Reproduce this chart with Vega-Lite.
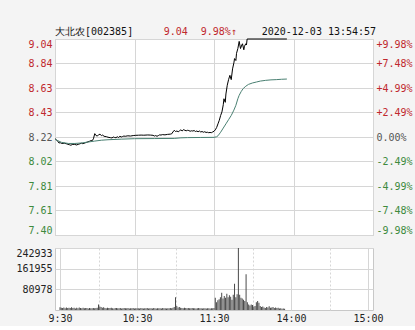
{
  "$schema": "https://vega.github.io/schema/vega-lite/v6.json",
  "background": "#f4f4f4",
  "padding": {"left": 15, "top": 26, "right": 2, "bottom": 2},
  "config": {
    "view": {"fill": "#ffffff", "stroke": "#c8c8c8"},
    "font": "DejaVu Sans Mono",
    "axis": {"labelFont": "DejaVu Sans Mono", "labelFontSize": 10, "domain": false, "ticks": false, "tickSize": 0, "labelPadding": 3, "gridColor": "#d6d6d6"}
  },
  "datasets": {
    "price": [
      {"t":0,"p":8.205},{"t":1,"p":8.198},{"t":2,"p":8.185},{"t":3,"p":8.17},{"t":4,"p":8.172},{"t":5,"p":8.166},{"t":7,"p":8.168},{"t":9,"p":8.162},{"t":11,"p":8.155},{"t":12,"p":8.151},{"t":13,"p":8.157},{"t":15,"p":8.159},{"t":16,"p":8.153},{"t":18,"p":8.16},{"t":20,"p":8.168},{"t":21,"p":8.164},{"t":23,"p":8.172},{"t":24,"p":8.176},{"t":26,"p":8.184},{"t":27,"p":8.19},{"t":28,"p":8.188},{"t":29,"p":8.205},{"t":30,"p":8.248},{"t":31,"p":8.232},{"t":32,"p":8.228},{"t":33,"p":8.24},{"t":34,"p":8.243},{"t":35,"p":8.232},{"t":36,"p":8.236},{"t":37,"p":8.226},{"t":39,"p":8.222},{"t":40,"p":8.218},{"t":42,"p":8.214},{"t":43,"p":8.212},{"t":44,"p":8.22},{"t":45,"p":8.216},{"t":46,"p":8.214},{"t":47,"p":8.222},{"t":48,"p":8.216},{"t":49,"p":8.226},{"t":50,"p":8.22},{"t":51,"p":8.224},{"t":52,"p":8.228},{"t":53,"p":8.226},{"t":55,"p":8.23},{"t":57,"p":8.228},{"t":59,"p":8.232},{"t":61,"p":8.234},{"t":63,"p":8.235},{"t":65,"p":8.236},{"t":67,"p":8.235},{"t":70,"p":8.237},{"t":72,"p":8.236},{"t":74,"p":8.234},{"t":75,"p":8.228},{"t":76,"p":8.232},{"t":77,"p":8.226},{"t":78,"p":8.232},{"t":79,"p":8.238},{"t":80,"p":8.236},{"t":81,"p":8.24},{"t":83,"p":8.238},{"t":85,"p":8.242},{"t":87,"p":8.244},{"t":88,"p":8.246},{"t":89,"p":8.262},{"t":90,"p":8.276},{"t":91,"p":8.266},{"t":92,"p":8.27},{"t":93,"p":8.264},{"t":94,"p":8.272},{"t":95,"p":8.28},{"t":96,"p":8.27},{"t":97,"p":8.282},{"t":98,"p":8.276},{"t":99,"p":8.272},{"t":100,"p":8.276},{"t":101,"p":8.274},{"t":102,"p":8.268},{"t":103,"p":8.272},{"t":104,"p":8.27},{"t":105,"p":8.274},{"t":106,"p":8.266},{"t":107,"p":8.27},{"t":108,"p":8.264},{"t":109,"p":8.27},{"t":110,"p":8.262},{"t":111,"p":8.266},{"t":112,"p":8.26},{"t":113,"p":8.264},{"t":114,"p":8.258},{"t":115,"p":8.26},{"t":116,"p":8.256},{"t":117,"p":8.258},{"t":118,"p":8.256},{"t":119,"p":8.262},{"t":120,"p":8.268},{"t":121,"p":8.28},{"t":122,"p":8.3},{"t":123,"p":8.33},{"t":124,"p":8.36},{"t":125,"p":8.4},{"t":126,"p":8.43},{"t":127,"p":8.49},{"t":127.5,"p":8.54},{"t":128.5,"p":8.51},{"t":129,"p":8.58},{"t":130,"p":8.653},{"t":131,"p":8.7},{"t":132,"p":8.736},{"t":133,"p":8.7},{"t":134,"p":8.79},{"t":135,"p":8.84},{"t":135.5,"p":8.876},{"t":136.5,"p":8.86},{"t":137,"p":8.92},{"t":138,"p":8.96},{"t":139,"p":9.02},{"t":140,"p":8.96},{"t":141,"p":8.99},{"t":141.5,"p":9.0},{"t":142.5,"p":8.95},{"t":143,"p":8.98},{"t":144,"p":9.0},{"t":144.5,"p":8.99},{"t":145,"p":9.04},{"t":175,"p":9.04}
    ],
    "avg": [
      {"t":0,"p":8.2},{"t":2,"p":8.19},{"t":5,"p":8.175},{"t":10,"p":8.166},{"t":15,"p":8.166},{"t":20,"p":8.17},{"t":25,"p":8.178},{"t":30,"p":8.186},{"t":35,"p":8.193},{"t":40,"p":8.197},{"t":50,"p":8.202},{"t":60,"p":8.206},{"t":75,"p":8.207},{"t":90,"p":8.208},{"t":95,"p":8.213},{"t":100,"p":8.215},{"t":110,"p":8.216},{"t":120,"p":8.217},{"t":122,"p":8.222},{"t":123,"p":8.23},{"t":124,"p":8.245},{"t":125,"p":8.26},{"t":127,"p":8.295},{"t":129,"p":8.33},{"t":131,"p":8.365},{"t":133,"p":8.4},{"t":135,"p":8.445},{"t":136.5,"p":8.485},{"t":138,"p":8.54},{"t":139,"p":8.569},{"t":140.5,"p":8.6},{"t":142,"p":8.625},{"t":144,"p":8.645},{"t":146,"p":8.66},{"t":149,"p":8.672},{"t":152,"p":8.68},{"t":155,"p":8.688},{"t":159,"p":8.694},{"t":163,"p":8.698},{"t":167,"p":8.7},{"t":171,"p":8.703},{"t":175,"p":8.705}
    ],
    "hdr": [
      {"t":0,"y":9.1,"label":"大北农[002385]","kind":"name"},
      {"t":82,"y":9.1,"label":"9.04","kind":"price"},
      {"t":110,"y":9.1,"label":"9.98%↑","kind":"pct"},
      {"t":156,"y":9.1,"label":"2020-12-03 13:54:57","kind":"time"}
    ],
    "vol": [
      {"t":0,"v":11000},{"t":1,"v":9000},{"t":2,"v":8000},{"t":3,"v":9500},{"t":4,"v":7000},{"t":5,"v":10000},{"t":6,"v":8000},{"t":7,"v":9000},{"t":8,"v":7500},{"t":9,"v":10500},{"t":10,"v":8000},{"t":11,"v":9000},{"t":12,"v":6000},{"t":13,"v":8500},{"t":14,"v":7000},{"t":15,"v":9500},{"t":16,"v":8000},{"t":17,"v":7000},{"t":18,"v":9000},{"t":19,"v":6500},{"t":20,"v":8000},{"t":21,"v":7500},{"t":22,"v":6000},{"t":23,"v":8000},{"t":24,"v":7000},{"t":25,"v":6500},{"t":26,"v":8000},{"t":27,"v":7000},{"t":28,"v":7500},{"t":29,"v":9000},
      {"t":30,"v":22000},
      {"t":31,"v":14000},{"t":32,"v":12000},{"t":33,"v":9000},{"t":34,"v":11000},{"t":35,"v":8000},{"t":36,"v":7000},{"t":37,"v":9000},{"t":38,"v":8000},{"t":39,"v":7500},{"t":40,"v":8500},{"t":41,"v":7000},{"t":42,"v":6000},{"t":43,"v":7500},{"t":44,"v":8000},{"t":45,"v":6500},{"t":46,"v":7000},{"t":47,"v":8000},{"t":48,"v":6000},{"t":49,"v":7000},{"t":50,"v":7500},{"t":51,"v":6500},{"t":52,"v":7000},{"t":53,"v":8000},{"t":54,"v":6000},{"t":55,"v":6500},{"t":56,"v":7000},{"t":57,"v":7500},{"t":58,"v":6000},{"t":59,"v":7000},
      {"t":60,"v":7000},{"t":61,"v":6500},{"t":62,"v":6000},{"t":63,"v":7500},{"t":64,"v":7000},{"t":65,"v":6000},{"t":66,"v":6500},{"t":67,"v":7000},{"t":68,"v":8000},{"t":69,"v":6000},{"t":70,"v":6500},{"t":71,"v":7000},{"t":72,"v":6000},{"t":73,"v":7500},{"t":74,"v":6500},{"t":75,"v":6000},{"t":76,"v":7000},{"t":77,"v":6500},{"t":78,"v":7000},{"t":79,"v":6000},{"t":80,"v":7500},{"t":81,"v":6500},{"t":82,"v":7000},{"t":83,"v":6000},{"t":84,"v":6500},{"t":85,"v":7000},{"t":86,"v":8000},{"t":87,"v":7000},{"t":88,"v":9000},
      {"t":89,"v":12000},{"t":90,"v":50000},{"t":91,"v":16000},{"t":92,"v":10000},{"t":93,"v":12000},{"t":94,"v":9000},
      {"t":95,"v":8000},{"t":96,"v":7000},{"t":97,"v":9000},{"t":98,"v":7500},{"t":99,"v":7000},{"t":100,"v":8000},{"t":101,"v":6500},{"t":102,"v":7000},{"t":103,"v":7500},{"t":104,"v":6500},{"t":105,"v":7000},{"t":106,"v":6000},{"t":107,"v":7000},{"t":108,"v":7500},{"t":109,"v":6500},{"t":110,"v":7000},{"t":111,"v":6000},{"t":112,"v":6500},{"t":113,"v":7000},{"t":114,"v":6000},{"t":115,"v":6500},{"t":116,"v":7000},{"t":117,"v":6000},{"t":118,"v":6500},{"t":119,"v":7000},
      {"t":120,"v":8000},{"t":121,"v":48000},{"t":122,"v":30000},{"t":123,"v":38000},{"t":124,"v":42000},{"t":125,"v":50000},{"t":126,"v":68000},{"t":127,"v":45000},{"t":128,"v":55000},{"t":129,"v":48000},{"t":130,"v":64000},{"t":131,"v":50000},{"t":132,"v":58000},{"t":133,"v":52000},{"t":134,"v":40000},{"t":135,"v":60000},{"t":136,"v":103000},{"t":137,"v":50000},{"t":138,"v":62000},{"t":139,"v":242933},{"t":140,"v":60000},{"t":141,"v":48000},{"t":142,"v":45000},{"t":143,"v":40000},{"t":144,"v":35000},{"t":145,"v":140000},{"t":146,"v":30000},{"t":147,"v":22000},{"t":148,"v":18000},{"t":149,"v":22000},{"t":150,"v":20000},{"t":151,"v":14000},{"t":152,"v":16000},{"t":153,"v":30000},{"t":154,"v":35000},{"t":155,"v":28000},{"t":156,"v":16000},{"t":157,"v":12000},{"t":158,"v":14000},{"t":159,"v":10000},{"t":160,"v":8000},{"t":161,"v":12000},{"t":162,"v":10000},{"t":163,"v":15000},{"t":164,"v":9000},{"t":165,"v":10000},{"t":166,"v":12000},{"t":167,"v":8000},{"t":168,"v":10000},{"t":169,"v":8000},{"t":170,"v":9000},{"t":171,"v":6000},{"t":172,"v":7000},{"t":173,"v":5000},{"t":174,"v":6000},{"t":175,"v":5000}
    ]
  },
  "vconcat": [
    {
      "width": 318,
      "height": 196,
      "layer": [
        {
          "data": {"name": "price"},
          "mark": {"type": "line", "color": "#000000", "strokeWidth": 1},
          "encoding": {
            "x": {"field": "t", "type": "quantitative", "scale": {"domain": [0, 240], "nice": false, "zero": false},
              "axis": {"title": null, "values": [0,30,60,90,120,150,180,210,240], "labels": false, "grid": true,
                "gridDash": {"condition": {"test": "datum.value % 60 != 0", "value": [2, 2]}, "value": []}}},
            "y": {"field": "p", "type": "quantitative", "scale": {"domain": [7.40, 9.04], "nice": false, "zero": false},
              "axis": {"title": null, "orient": "left", "values": [7.40,7.605,7.81,8.015,8.22,8.425,8.63,8.835,9.04], "grid": true, "labelFlush": true,
                "labelExpr": "['7.40','7.61','7.81','8.02','8.22','8.43','8.63','8.84','9.04'][round((datum.value-7.40)/0.205)]",
                "labelColor": {"condition": [{"test": "datum.value > 8.3", "value": "#c0282d"}, {"test": "datum.value < 8.1", "value": "#3d8a3d"}], "value": "#555555"}}}
          }
        },
        {
          "data": {"name": "avg"},
          "mark": {"type": "line", "color": "#4a8072", "strokeWidth": 1},
          "encoding": {
            "x": {"field": "t", "type": "quantitative", "scale": {"domain": [0, 240], "nice": false, "zero": false}},
            "y": {"field": "p", "type": "quantitative", "scale": {"domain": [7.40, 9.04], "nice": false, "zero": false},
              "axis": {"title": null, "orient": "right", "values": [7.40,7.605,7.81,8.015,8.22,8.425,8.63,8.835,9.04], "grid": false, "labelFlush": true,
                "labelExpr": "['-9.98%','-7.48%','-4.99%','-2.49%','0.00%','+2.49%','+4.99%','+7.48%','+9.98%'][round((datum.value-7.40)/0.205)]",
                "labelColor": {"condition": [{"test": "datum.value > 8.3", "value": "#c0282d"}, {"test": "datum.value < 8.1", "value": "#3d8a3d"}], "value": "#555555"}}}
          }
        },
        {
          "data": {"name": "hdr"},
          "mark": {"type": "text", "align": "left", "baseline": "middle", "fontSize": 10, "font": "DejaVu Sans Mono"},
          "encoding": {
            "x": {"field": "t", "type": "quantitative", "scale": {"domain": [0, 240], "nice": false, "zero": false}},
            "y": {"field": "y", "type": "quantitative", "scale": {"domain": [7.40, 9.04], "nice": false, "zero": false}, "axis": null},
            "text": {"field": "label"},
            "color": {"field": "kind", "type": "nominal", "scale": {"domain": ["name","price","pct","time"], "range": ["#111111","#c0282d","#c0282d","#111111"]}, "legend": null}
          }
        }
      ],
      "resolve": {"scale": {"y": "independent"}}
    },
    {
      "width": 318,
      "height": 62,
      "data": {"name": "vol"},
      "mark": {"type": "bar", "color": "#4a4a4a", "size": 1},
      "encoding": {
        "x": {"field": "t", "type": "quantitative", "scale": {"domain": [0, 240], "nice": false, "zero": false},
          "axis": {"title": null, "values": [0,30,60,90,120,150,180,210,240], "grid": true, "labelPadding": 3, "labelColor": "#222222", "labelFlush": false, "labelOverlap": false,
            "labelExpr": "datum.value==0?'9:30':datum.value==60?'10:30':datum.value==120?'11:30':datum.value==180?'14:00':datum.value==240?'15:00':''",
            "gridDash": {"condition": {"test": "datum.value % 60 != 0", "value": [2, 2]}, "value": []}}},
        "y": {"field": "v", "type": "quantitative", "scale": {"domain": [0, 242933], "nice": false},
          "axis": {"title": null, "values": [80978, 161955, 242933], "format": "d", "grid": true, "labelFlush": true, "labelColor": "#222222"}}
      }
    }
  ],
  "spacing": 13,
  "bounds": "flush"
}
